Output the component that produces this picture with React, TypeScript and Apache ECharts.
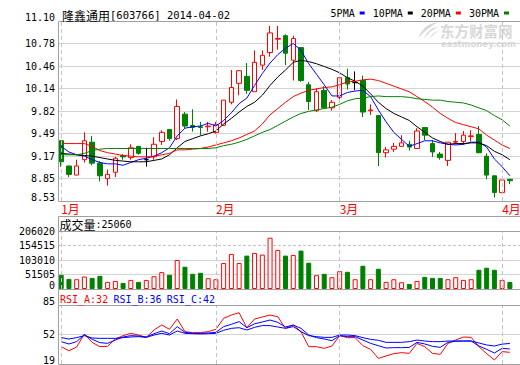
import React, { useEffect, useRef } from "react";
import * as echarts from "echarts";

// ---------- data ----------
const STOCK_NAME = "隆鑫通用";
const STOCK_CODE = "[603766]";
const REPORT_DATE = "2014-04-02";

const DATES = [
  "2014-01-03", "2014-01-06", "2014-01-07", "2014-01-08", "2014-01-09", "2014-01-10", "2014-01-13", "2014-01-14", "2014-01-15", "2014-01-16",
  "2014-01-17", "2014-01-20", "2014-01-21", "2014-01-22", "2014-01-23", "2014-01-24", "2014-01-27", "2014-01-28", "2014-01-29", "2014-01-30",
  "2014-02-07", "2014-02-10", "2014-02-11", "2014-02-12", "2014-02-13", "2014-02-14", "2014-02-17", "2014-02-18", "2014-02-19", "2014-02-20",
  "2014-02-21", "2014-02-24", "2014-02-25", "2014-02-26", "2014-02-27", "2014-02-28", "2014-03-03", "2014-03-04", "2014-03-05", "2014-03-06",
  "2014-03-07", "2014-03-10", "2014-03-11", "2014-03-12", "2014-03-13", "2014-03-14", "2014-03-17", "2014-03-18", "2014-03-19", "2014-03-20",
  "2014-03-21", "2014-03-24", "2014-03-25", "2014-03-26", "2014-03-27", "2014-03-28", "2014-03-31", "2014-04-01", "2014-04-02",
];

const OPEN = [
  9.39, 9.03, 8.90, 9.12, 9.37, 9.07, 8.85, 8.94, 9.18, 9.15,
  9.31, 9.12, 9.16, 9.38, 9.55, 9.42, 9.77, 9.61, 9.59, 9.59,
  9.51, 9.61, 9.94, 10.21, 10.31, 10.09, 10.47, 10.65, 10.84, 10.89,
  10.54, 10.72, 10.19, 9.82, 10.11, 9.86, 10.01, 10.29, 10.22, 10.25,
  9.82, 9.75, 9.22, 9.27, 9.31, 9.34, 9.28, 9.58, 9.35, 9.20,
  9.11, 9.37, 9.38, 9.45, 9.48, 9.17, 8.89, 8.65, 8.84,
];
const CLOSE = [
  9.09, 8.91, 9.03, 9.39, 9.07, 8.89, 8.91, 9.14, 9.16, 9.29,
  9.21, 9.12, 9.34, 9.51, 9.42, 9.88, 9.60, 9.58, 9.58, 9.60,
  9.62, 9.97, 10.15, 10.39, 10.11, 10.51, 10.61, 10.93, 10.85, 10.64,
  10.85, 10.25, 9.95, 10.09, 9.86, 9.94, 10.29, 10.20, 10.22, 9.80,
  9.83, 9.22, 9.26, 9.31, 9.36, 9.30, 9.53, 9.47, 9.23, 9.15,
  9.37, 9.38, 9.47, 9.46, 9.22, 8.90, 8.65, 8.83, 8.82,
];
const LOW = [
  9.02, 8.87, 8.90, 9.08, 9.04, 8.81, 8.75, 8.87, 9.12, 9.12,
  9.19, 9.02, 9.12, 9.33, 9.39, 9.40, 9.57, 9.52, 9.47, 9.52,
  9.49, 9.60, 9.91, 10.04, 10.06, 10.09, 10.40, 10.59, 10.69, 10.47,
  10.25, 10.23, 9.83, 9.80, 9.85, 9.82, 9.97, 10.12, 10.11, 9.73,
  9.76, 9.03, 9.15, 9.23, 9.31, 9.25, 9.28, 9.40, 9.16, 9.12,
  9.03, 9.34, 9.33, 9.38, 9.21, 8.84, 8.58, 8.65, 8.77,
];
const HIGH = [
  9.39, 9.03, 9.12, 9.51, 9.46, 9.10, 8.98, 9.16, 9.20, 9.34,
  9.31, 9.29, 9.44, 9.54, 9.56, 9.98, 9.80, 9.84, 9.66, 9.66,
  9.66, 9.97, 10.40, 10.40, 10.50, 10.68, 10.68, 11.03, 11.03, 10.91,
  10.89, 10.72, 10.23, 10.14, 10.17, 9.97, 10.29, 10.42, 10.38, 10.32,
  9.91, 9.75, 9.30, 9.36, 9.47, 9.39, 9.57, 9.58, 9.40, 9.23,
  9.37, 9.50, 9.53, 9.54, 9.60, 9.21, 8.89, 8.83, 8.84,
];

const MA5 = [
  9.31, 9.23, 9.19, 9.17, 9.12, 9.08, 9.06, 9.06, 9.04, 9.08,
  9.12, 9.14, 9.17, 9.22, 9.29, 9.46, 9.57, 9.59, 9.60, 9.64,
  9.60, 9.68, 9.79, 9.92, 10.00, 10.18, 10.35, 10.50, 10.62, 10.71,
  10.78, 10.68, 10.49, 10.34, 10.19, 10.03, 10.03, 10.08, 10.10, 10.11,
  10.02, 9.83, 9.66, 9.51, 9.41, 9.31, 9.35, 9.39, 9.39, 9.36,
  9.34, 9.33, 9.34, 9.37, 9.37, 9.30, 9.13, 9.02, 8.89,
];
const MA10 = [
  9.21, 9.20, 9.19, 9.18, 9.17, 9.15, 9.13, 9.11, 9.10, 9.09,
  9.09, 9.09, 9.11, 9.13, 9.19, 9.29, 9.38, 9.42, 9.46, 9.49,
  9.53, 9.63, 9.71, 9.80, 9.88, 9.94, 10.04, 10.18, 10.30, 10.40,
  10.51, 10.54, 10.52, 10.49, 10.45, 10.41, 10.36, 10.29, 10.24, 10.17,
  10.06, 9.94, 9.85, 9.78, 9.73, 9.68, 9.59, 9.51, 9.43, 9.38,
  9.34, 9.35, 9.35, 9.36, 9.36, 9.32, 9.24, 9.19, 9.12,
];
const MA20 = [
  9.35, 9.35, 9.35, 9.35, 9.31, 9.25, 9.22, 9.20, 9.18, 9.17,
  9.16, 9.16, 9.17, 9.19, 9.21, 9.26, 9.26, 9.27, 9.28, 9.30,
  9.33, 9.36, 9.39, 9.43, 9.48, 9.53, 9.63, 9.76, 9.85, 9.94,
  10.02, 10.07, 10.11, 10.13, 10.15, 10.16, 10.19, 10.23, 10.24, 10.26,
  10.27, 10.25, 10.21, 10.17, 10.13, 10.09, 10.02, 9.95, 9.87, 9.78,
  9.71, 9.65, 9.62, 9.59, 9.56, 9.47, 9.40, 9.33, 9.28,
];
const MA30 = [
  9.19, 9.19, 9.19, 9.21, 9.25, 9.27, 9.28, 9.28, 9.28, 9.28,
  9.28, 9.28, 9.28, 9.28, 9.28, 9.28, 9.28, 9.28, 9.28, 9.28,
  9.29, 9.32, 9.34, 9.37, 9.41, 9.46, 9.51, 9.55, 9.61, 9.67,
  9.73, 9.78, 9.81, 9.83, 9.85, 9.87, 9.91, 9.96, 9.99, 10.00,
  10.02, 10.03, 10.02, 10.02, 10.02, 10.01, 9.99, 9.98, 9.97, 9.97,
  9.95, 9.94, 9.93, 9.90, 9.86, 9.82, 9.75, 9.69, 9.60,
];

const VOLUME = [
  50300, 35900, 34700, 44300, 39500, 46700, 25200, 28700, 21600, 32300,
  25200, 32300, 45500, 59900, 50300, 103000, 79100, 53900, 57500, 38300,
  34700, 92200, 124600, 92200, 118600, 128200, 122200, 182100, 138900, 118600,
  121000, 136500, 93400, 49100, 53900, 41900, 63500, 61100, 34700, 82600,
  34700, 71900, 25200, 34700, 24000, 18000, 28700, 43100, 39500, 39500,
  34700, 41900, 32300, 34700, 68300, 75500, 68300, 32300, 25060,
];

const RSI_A = [
  38.4, 33.9, 38.0, 52.6, 43.2, 38.4, 38.8, 47.0, 50.7, 53.3,
  51.4, 48.8, 57.0, 62.6, 57.8, 69.3, 55.2, 54.1, 54.1, 55.2,
  57.8, 70.1, 73.8, 76.4, 59.6, 69.3, 71.6, 73.8, 71.9, 58.9,
  62.6, 55.2, 38.4, 38.4, 36.5, 39.1, 50.7, 48.5, 48.5, 39.5,
  35.4, 25.3, 28.0, 30.6, 31.7, 30.9, 42.1, 38.4, 30.9, 29.8,
  42.1, 45.8, 49.2, 48.8, 38.4, 30.6, 23.5, 32.8, 32.1,
];
const RSI_B = [
  44.0, 41.4, 44.0, 51.8, 46.6, 42.9, 42.1, 45.8, 49.2, 50.7,
  50.3, 49.2, 52.9, 55.9, 52.9, 60.8, 54.4, 53.3, 53.3, 53.7,
  54.4, 60.8, 63.4, 66.4, 59.6, 64.0, 66.0, 68.2, 65.6, 60.4,
  62.6, 58.9, 51.4, 48.5, 47.0, 45.1, 50.7, 49.6, 49.6, 45.8,
  42.1, 39.5, 36.9, 37.3, 37.3, 37.6, 43.2, 41.4, 38.8, 37.6,
  43.2, 44.4, 44.7, 44.7, 39.1, 35.4, 31.3, 36.5, 35.8,
];
const RSI_C = [
  48.5, 47.0, 48.5, 50.7, 48.1, 47.7, 47.7, 47.7, 48.5, 49.2,
  49.6, 48.8, 51.4, 53.3, 51.4, 55.9, 53.3, 52.9, 52.6, 52.9,
  53.3, 56.7, 58.9, 59.6, 57.0, 60.0, 62.0, 61.9, 60.4, 58.9,
  60.8, 55.2, 50.7, 49.6, 48.8, 48.8, 51.4, 51.4, 50.7, 48.5,
  46.6, 45.5, 43.2, 43.2, 43.2, 44.0, 45.8, 44.7, 44.0, 44.0,
  44.7, 44.7, 44.7, 44.7, 42.5, 40.3, 39.1, 41.2, 42.0,
];

const PRICE_TICKS = ["8.53", "8.85", "9.17", "9.49", "9.82", "10.14", "10.46", "10.78", "11.10"];
const VOLUME_TICKS = ["0", "51505", "103010", "154515", "206020"];
const RSI_TICKS = ["19", "52", "85"];
const MA_NAMES = ["5PMA", "10PMA", "20PMA", "30PMA"];
const RSI_NAMES = ["RSI_A", "RSI_B", "RSI_C"];

// ---------- styles ----------
const MONO = "DejaVu Sans Mono";
const CJK = "Noto Sans CJK SC";
const RED = "#ff0000";
const GREEN = "#008000";
const BLUE = "#0000ff";
const BLACK = "#000000";
const BORDER = "#a0a0a0";
const GRIDC = "#d4d4d4";
const T = "rgba(0,0,0,0)";
const MARK = "#d8d8d8";

echarts.graphic.registerShape(
  "emLogo",
  echarts.graphic.extendPath(
    "M20 0 Q6 2 0 18 Q8 8 20 0 Z M20 5 Q10 7 6 18 Q12 10 20 5 Z M20 10 Q14 12 12 18 Q16 13 20 10 Z",
    {}
  )
);

const DATA_LEFT = 57.33;
const DATA_WIDTH = 456.4;
const FRAME_LEFT = 58;
const MAIN = { top: 21, height: 180 };
const VOL = { top: 231, height: 58 };
const RSI = { top: 305, height: 59 };

function tickLabel(ticks: string[], shifted: number[]) {
  return {
    show: true,
    margin: 3,
    color: "#000",
    fontFamily: MONO,
    fontSize: 10,
    formatter: (v: number) => {
      const i = Math.round(v);
      const t = ticks[i] ?? "";
      return shifted.includes(i) ? `{u|${t}}` : t;
    },
    rich: { u: { fontFamily: MONO, fontSize: 10, color: "#000", padding: [0, 0, 8, 0] } },
  };
}

function frameY(gridIndex: number, ticks: string[], shifted: number[], colors: string[]) {
  return {
    type: "value",
    gridIndex,
    min: 0,
    max: ticks.length - 1,
    interval: 1,
    axisLine: { show: false },
    axisTick: { show: false },
    axisLabel: tickLabel(ticks, shifted),
    splitLine: { show: true, lineStyle: { color: colors, width: 1, type: "solid" } },
  };
}

function hiddenValueX(gridIndex: number) {
  return { type: "value", gridIndex, min: 0, max: 1, show: false };
}

function dataX(gridIndex: number, monthStarts: number[], showLabels: boolean) {
  return {
    type: "category",
    gridIndex,
    data: DATES,
    boundaryGap: true,
    axisLine: { show: false },
    axisTick: { show: false },
    splitLine: { show: false },
    axisLabel: showLabels
      ? {
          show: true,
          interval: (i: number) => monthStarts.includes(i),
          formatter: (v: string) => `${Number(v.slice(5, 7))}月`,
          align: "left",
          margin: 1,
          color: RED,
          fontFamily: CJK,
          fontSize: 12,
          lineHeight: 12,
        }
      : { show: false },
  };
}

function buildOption() {
  const monthStarts = DATES.map((d, i) => (i === 0 || d.slice(5, 7) !== DATES[i - 1].slice(5, 7) ? i : -1)).filter(
    (i) => i >= 0
  );
  const monthLines = {
    silent: true,
    symbol: ["none", "none"],
    label: { show: false },
    emphasis: { disabled: true },
    lineStyle: { color: "#c4c4c4", type: [4, 3], width: 1 },
    data: monthStarts.map((i) => ({ xAxis: DATES[i] })),
  };

  const candles = DATES.map((_, i) => [OPEN[i], CLOSE[i], LOW[i], HIGH[i]]);
  const volumes = VOLUME.map((v, i) => {
    const up = CLOSE[i] >= OPEN[i];
    return {
      value: v,
      itemStyle: up
        ? { color: "#ffffff", borderColor: RED, borderWidth: 1 }
        : { color: GREEN, borderColor: GREEN, borderWidth: 1 },
    };
  });

  const maColors = [BLUE, BLACK, RED, GREEN];
  const maSeries = [MA5, MA10, MA20, MA30].map((d, k) => ({
    name: MA_NAMES[k],
    type: "line",
    xAxisIndex: 1,
    yAxisIndex: 1,
    data: d,
    symbol: "none",
    color: maColors[k],
    lineStyle: { width: 1, color: maColors[k] },
    z: 3,
  }));

  const rsiColors = [RED, BLUE, BLUE];
  const rsiSeries = [RSI_A, RSI_B, RSI_C].map((d, k) => ({
    name: RSI_NAMES[k],
    type: "line",
    xAxisIndex: 5,
    yAxisIndex: 6,
    data: d,
    symbol: "none",
    color: rsiColors[k],
    lineStyle: { width: 1, color: rsiColors[k] },
    markLine: k === 0 ? monthLines : undefined,
    z: 3,
  }));

  const last = DATES.length - 1;
  const rsiLast = [RSI_A[last], RSI_B[last], RSI_C[last]];

  const grid = (top: number, height: number, left: number, width?: number) => ({
    top,
    height,
    left,
    ...(width !== undefined ? { width } : { right: 0 }),
    containLabel: false,
    outerBoundsMode: "none",
    show: false,
  });

  return {
    animation: false,
    backgroundColor: "#ffffff",
    grid: [
      grid(MAIN.top, MAIN.height, FRAME_LEFT),
      grid(MAIN.top, MAIN.height, DATA_LEFT, DATA_WIDTH),
      grid(VOL.top, VOL.height, FRAME_LEFT),
      grid(VOL.top, VOL.height, DATA_LEFT, DATA_WIDTH),
      grid(RSI.top, RSI.height, FRAME_LEFT),
      grid(RSI.top, RSI.height, DATA_LEFT, DATA_WIDTH),
    ],
    xAxis: [
      hiddenValueX(0),
      dataX(1, monthStarts, true),
      hiddenValueX(2),
      dataX(3, monthStarts, false),
      hiddenValueX(4),
      dataX(5, monthStarts, false),
    ],
    yAxis: [
      frameY(0, PRICE_TICKS, [0, 8], [T, GRIDC, GRIDC, GRIDC, GRIDC, GRIDC, GRIDC, GRIDC, T]),
      { type: "value", gridIndex: 1, min: 8.53, max: 11.1, show: false, splitLine: { show: false } },
      frameY(2, VOLUME_TICKS, [0], [T, GRIDC, GRIDC, T, T]),
      {
        type: "value",
        gridIndex: 2,
        position: "right",
        min: 0,
        max: VOLUME_TICKS.length - 1,
        interval: 1,
        axisLine: { show: false },
        axisTick: { show: false },
        axisLabel: { show: false },
        splitLine: { show: true, lineStyle: { color: [T, T, T, "#c4c4c4", T], type: [3, 2], width: 1 } },
      },
      { type: "value", gridIndex: 3, min: 0, max: 206020, show: false, splitLine: { show: false } },
      frameY(4, RSI_TICKS, [0, 2], [T, GRIDC, T]),
      { type: "value", gridIndex: 5, min: 19, max: 85, show: false, splitLine: { show: false } },
    ],
    legend: {
      show: true,
      data: MA_NAMES,
      right: 11,
      top: 8,
      align: "right",
      icon: "rect",
      itemWidth: 5,
      itemHeight: 3,
      itemGap: 8,
      padding: 0,
      selectedMode: false,
      textStyle: { fontFamily: MONO, fontSize: 10, color: "#000" },
    },
    series: [
      {
        name: "K",
        type: "candlestick",
        xAxisIndex: 1,
        yAxisIndex: 1,
        data: candles,
        barWidth: 5,
        itemStyle: {
          color: "#ffffff",
          color0: GREEN,
          borderColor: RED,
          borderColor0: GREEN,
          borderColorDoji: BLACK,
          borderWidth: 1,
        },
        markLine: monthLines,
        z: 2,
      },
      ...maSeries,
      {
        name: "VOL",
        type: "bar",
        xAxisIndex: 3,
        yAxisIndex: 4,
        data: volumes,
        barWidth: 5,
        markLine: monthLines,
        z: 2,
      },
      ...rsiSeries,
    ],
    graphic: [
      { type: "rect", z: 50, silent: true, shape: { x: 58.5, y: 21.5, width: 470, height: 180 }, style: { fill: "none", stroke: BORDER, lineWidth: 1 } },
      { type: "rect", z: 50, silent: true, shape: { x: 58.5, y: 216.5, width: 470, height: 73 }, style: { fill: "none", stroke: BORDER, lineWidth: 1 } },
      { type: "line", z: 50, silent: true, shape: { x1: 58.5, y1: 231.5, x2: 520, y2: 231.5 }, style: { stroke: BORDER, lineWidth: 1 } },
      { type: "rect", z: 50, silent: true, shape: { x: 58.5, y: 289.5, width: 470, height: 75 }, style: { fill: "none", stroke: BORDER, lineWidth: 1 } },
      { type: "line", z: 50, silent: true, shape: { x1: 58.5, y1: 305.5, x2: 520, y2: 305.5 }, style: { stroke: BORDER, lineWidth: 1 } },
      // watermark
      { type: "emLogo", z: 1, silent: true, x: 418, y: 22, scaleX: 1, scaleY: 0.9, style: { fill: MARK } },
      {
        type: "text", z: 1, silent: true, x: 440, y: 23,
        style: { text: "东方财富网", fill: MARK, fontFamily: CJK, fontSize: 14.5, lineHeight: 14, fontWeight: "bold", verticalAlign: "top" },
      },
      {
        type: "text", z: 1, silent: true, x: 441, y: 40,
        style: { text: "eastmoney.com", fill: MARK, fontFamily: "DejaVu Sans", fontSize: 8.5, lineHeight: 8, fontWeight: "bold", verticalAlign: "top" },
      },
      // title
      {
        type: "text", z: 60, silent: true, x: 62, y: 15,
        style: {
          text: `{c|${STOCK_NAME}}{a|${STOCK_CODE} ${REPORT_DATE}}`,
          verticalAlign: "middle",
          rich: {
            c: { fontFamily: CJK, fontSize: 12, lineHeight: 12, fill: "#000" },
            a: { fontFamily: MONO, fontSize: 10.5, lineHeight: 12, fill: "#000" },
          },
        },
      },
      // volume header
      {
        type: "text", z: 60, silent: true, x: 59.5, y: 224.5,
        style: {
          text: `{c|成交量}{a|:${VOLUME[last]}}`,
          verticalAlign: "middle",
          rich: {
            c: { fontFamily: CJK, fontSize: 12, lineHeight: 12, fill: "#000" },
            a: { fontFamily: MONO, fontSize: 10, lineHeight: 12, fill: "#000" },
          },
        },
      },
      // RSI header
      ...RSI_NAMES.map((n, k) => ({
        type: "text", z: 60, silent: true, x: 60 + k * 53.4, y: 299.5,
        style: {
          text: `${n}:${Math.round(rsiLast[k])}`,
          fill: rsiColors[k],
          fontFamily: MONO,
          fontSize: 10,
          lineHeight: 11,
          verticalAlign: "middle",
        },
      })),
    ],
  };
}

export default function App() {
  const ref = useRef<HTMLDivElement>(null);
  useEffect(() => {
    if (!ref.current) return;
    const chart = echarts.init(ref.current, null, { renderer: "svg" });
    chart.setOption(buildOption() as any);
    return () => chart.dispose();
  }, []);
  return (
    <div
      ref={ref}
      style={{ position: "fixed", left: 0, top: 0, width: 520, height: 365, background: "#ffffff" }}
    />
  );
}
